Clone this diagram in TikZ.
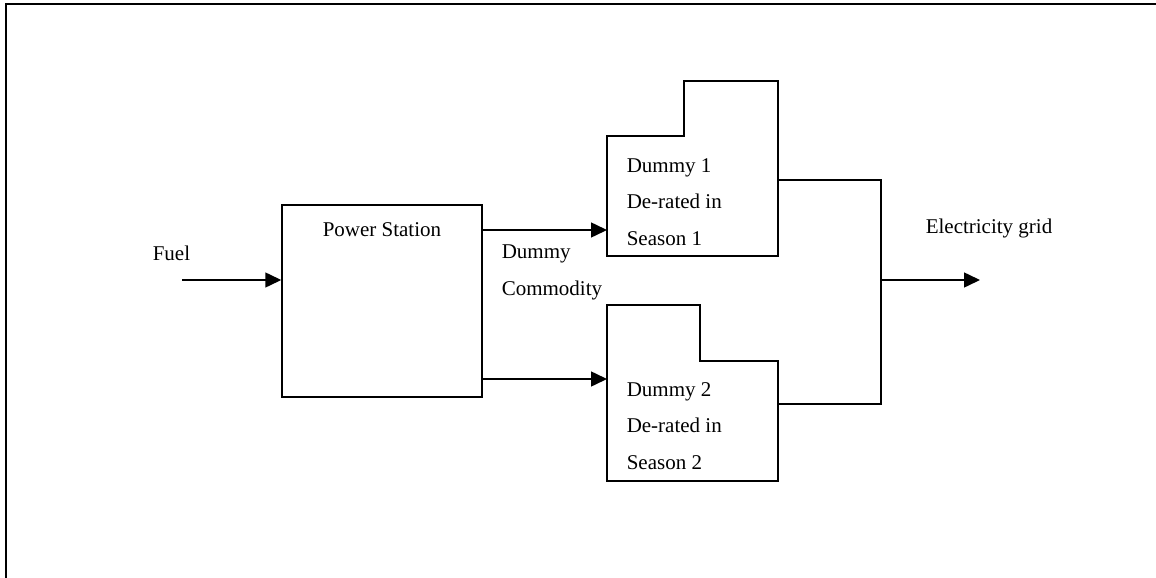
\documentclass[tikz,border=0pt]{standalone}
\usepackage{fontspec}
\setmainfont{Liberation Serif}
\usetikzlibrary{arrows.meta}
\begin{document}
\begin{tikzpicture}[x=1pt,y=-1pt,
  line width=1.5pt,
  lbl/.style={anchor=base west,inner sep=0pt,font=\fontsize{21}{25}\selectfont},
  flow/.style={-{Triangle[length=16pt,width=15pt]}},
  boxshape/.style={draw,line width=1.5pt,line join=miter}]
\useasboundingbox (0,0) rectangle (1156,578);
% outer frame (cropped on the right and bottom)
\draw[line width=2pt] (6,590) -- (6,4) -- (1170,4);
% power station
\node[draw,minimum width=200pt,minimum height=192pt,inner sep=0pt,line width=1.5pt] (ps) at (382,301) {};
\node[lbl] (pst) at (322,236) {Power Station};
% fuel
\node[lbl] (fuel) at (152,260) {Fuel};
\coordinate (fuelin) at (182,280);
\draw[flow] (fuelin) -- (fuelin -| ps.west);
% dummy 1
\draw[boxshape] (607,136) -- (684,136) -- (684,81) -- (778,81) -- (778,256) -- (607,256) -- cycle;
\coordinate (d1in) at (607,230);
\coordinate (d1out) at (778,180);
\node[lbl] (d1a) at (626,172) {Dummy 1};
\node[lbl] (d1b) at (626,208.5) {De-rated in};
\node[lbl] (d1c) at (626,245) {Season 1};
% dummy 2
\draw[boxshape] (607,305) -- (700,305) -- (700,361) -- (778,361) -- (778,481) -- (607,481) -- cycle;
\coordinate (d2in) at (607,379);
\coordinate (d2out) at (778,404);
\node[lbl] (d2a) at (626,396) {Dummy 2};
\node[lbl] (d2b) at (626,432.5) {De-rated in};
\node[lbl] (d2c) at (626,469) {Season 2};
% dummy commodity
\draw[flow] (d1in -| ps.east) -- (d1in);
\draw[flow] (d2in -| ps.east) -- (d2in);
\node[lbl] (dc1) at (501,258) {Dummy};
\node[lbl] (dc2) at (501,295) {Commodity};
% collector
\coordinate (bus) at (881,280);
\coordinate (gridout) at (980,280);
\draw (d1out) -- (d1out -| bus) -- (d2out -| bus) -- (d2out);
\draw[flow] (bus) -- (gridout);
\node[lbl] (grid) at (925,233.5) {Electricity grid};
\end{tikzpicture}
\end{document}
